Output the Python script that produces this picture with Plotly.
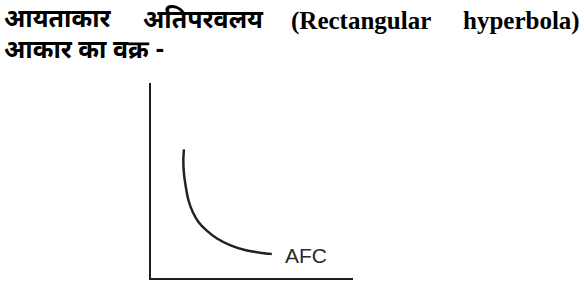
import plotly.graph_objects as go

# Data (quantity, average fixed cost)
quantity = [1.63, 1.60, 1.63, 1.72, 1.85, 2.06, 2.34, 2.76, 3.25, 3.91, 4.65, 5.40, 5.98]
afc = [6.60, 6.05, 5.37, 4.69, 4.00, 3.40, 2.89, 2.43, 2.04, 1.69, 1.44, 1.30, 1.23]
curve_label = "AFC"
title_words_line1 = ["आयताकार", "अतिपरवलय", "(Rectangular", "hyperbola)"]
title_line2 = "आकार का वक्र -"

W, H = 584, 289
L, R, T, B = 151, 353, 83, 278


def px(x):
    return (x - L) / (R - L)


def py(y):
    return (B - y) / (B - T)


fig = go.Figure()
fig.add_trace(go.Scatter(
    x=quantity, y=afc, mode="lines",
    line=dict(color="#222222", width=2.5, shape="spline", smoothing=0.6),
    hoverinfo="skip", showlegend=False,
))

fig.add_annotation(
    x=quantity[-1], y=afc[-1], xref="x", yref="y", text=curve_label,
    showarrow=False, xanchor="left", yanchor="middle", xshift=11, yshift=-1,
    font=dict(family="Liberation Sans, Arial, sans-serif", size=21, color="#2a2a2a"),
)

deva = "Noto Sans Devanagari, Lohit Devanagari, Mangal, sans-serif"
serif = "Liberation Serif, Times New Roman, serif"
line1_pos = [(2, deva, 25), (141, deva, 25), (289, serif, 25), (461, serif, 25)]
for w, (x0, fam, sz) in zip(title_words_line1, line1_pos):
    fig.add_annotation(
        x=px(x0), y=py(21), xref="paper", yref="paper", text="<b>" + w + "</b>",
        showarrow=False, xanchor="left", yanchor="middle",
        font=dict(family=fam, size=sz, color="#000000"),
    )
fig.add_annotation(
    x=px(2), y=py(52), xref="paper", yref="paper", text="<b>" + title_line2 + "</b>",
    showarrow=False, xanchor="left", yanchor="middle",
    font=dict(family=deva, size=25, color="#000000"),
)

axis_common = dict(
    showgrid=False, zeroline=False, showticklabels=False, ticks="",
    showline=True, linecolor="#1e1e1e", linewidth=2,
)
fig.update_xaxes(range=[0, 10], **axis_common)
fig.update_yaxes(range=[0, 10], **axis_common)

fig.update_layout(
    width=W, height=H,
    margin=dict(l=L, r=W - R, t=T, b=H - B, pad=0),
    paper_bgcolor="white", plot_bgcolor="white",
)

fig.write_html("out.html", config={"displayModeBar": False})
